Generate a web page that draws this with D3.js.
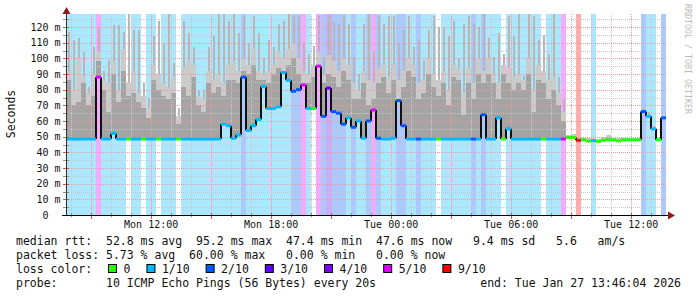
<!DOCTYPE html>
<html><head><meta charset="utf-8">
<script src="https://cdn.jsdelivr.net/npm/d3@7"></script>
<style>body{margin:0;background:#fff} svg{display:block} text{font-family:"DejaVu Sans Mono",monospace}</style>
</head><body><svg id="c" width="697" height="297"></svg>
<script>
// ---- data ----
const startTime = "2026-01-26T07:46:04";
const endTime = "2026-01-27T13:46:04";
const binMinutes = 15;
const yMax = 128.3;
const lossLevels = [0, 1, 2, 3, 4, 5, 9];
const lossLabels = ["0", "1/10", "2/10", "3/10", "4/10", "5/10", "9/10"];
const lossColors = ["#26ff00", "#00b8ff", "#0059ff", "#5e00ff", "#7e00ff", "#dd00ff", "#ff0000"];
const yTicks = [0, 10, 20, 30, 40, 50, 60, 70, 80, 90, 100, 110, 120];
const yTickLabels = ["0  ", "10 m", "20 m", "30 m", "40 m", "50 m", "60 m", "70 m", "80 m", "90 m", "100 m", "110 m", "120 m"];
// median rtt (ms) per 15-minute bin
const median = [
  48.5,48.5,48.5,48.5,48.5,48.5,88,48.5,48.5,52, 48.5,48.5,48.5,48.5,48.5,48.5,48.5,48.5,48.5,48.5,
  48.5,48.5,48.5,48.5,48.5,48.5,48.5,48.5,48.5,48.5, 48.5,58,57,49,51,88,54,57,61,82,
  68,68,69,91,86,79,80,83,68,68, 95,63,81,66,65,58,62,56,60,49,
  60,67,49,48.5,48.5,49,73,57,48.5,48.5, 48.5,48.5,48.5,48.5,48.5,48.5,48.5,48.5,48.5,48.5,
  48.5,48.5,48.5,64,48.5,48.5,62,48.5,55,48.5, 48.5,48.5,48.5,48.5,48.5,48.5,48.5,48.5,48.5,48.5,
  49.5,49.5,47.7,48,47.2,47.5,47,47.8,48,48, 47.3,48,48,48,48,66,63,55,48,62
];
// packet loss (tenths) per bin
const loss = [
  1,1,1,1,1,1,5,1,1,1, 1,1,0,1,1,0,1,1,0,1,
  1,1,0,1,1,1,1,1,1,1, 1,1,1,1,1,2,1,1,1,1,
  1,1,1,1,1,2,2,5,1,0, 5,2,3,2,2,2,1,2,1,1,
  2,5,2,1,1,1,2,2,1,1, 2,1,1,1,0,1,1,1,1,1,
  1,2,1,2,1,1,1,0,1,1, 1,1,1,1,1,0,1,1,1,5,
  0,0,9,0,0,1,0,0,0,0, 0,0,0,0,0,2,1,1,0,2
];
// smoke: highest ping, upper light band, medium band (ms)
const smokeMax = [
  117,112,113,104,82,107,120,92,99,121, 121,117,128,118,118,84,75,114,124,110,
  128,97,68,124,116,107,79,80,107,114, 128,128,124,128,116,127,110,127,116,100,
  112,107,122,124,128,127,127,110,103,108, 127,101,127,123,122,127,122,101,90,122,
  128,105,127,122,127,127,110,118,127,107, 112,99,118,127,120,120,114,124,100,122,
  127,122,120,128,113,101,116,103,127,114, 128,89,128,127,112,115,103,128,88,75,
  51,52,49,49,49,49,48.5,50,51,49, 49,49,49,49,49,68,66,57,49,63
];
const smokeHigh = [
  92,80,100,88,78,90,104,86,84,98, 80,106,84,92,78,76,68,96,90,84,
  82,88,63,94,98,96,76,74,92,86, 90,84,96,98,92,100,96,106,92,90,
  92,96,104,100,106,110,100,92,90,96, 104,90,102,98,92,100,96,84,80,92,
  86,84,94,96,88,96,86,92,100,96, 84,86,100,90,86,92,80,96,94,78,
  94,84,100,92,100,90,84,96,94,88, 90,86,100,80,96,92,86,88,78,66,
  51,52,49,49,49,49,48.5,50,51,49, 49,49,49,49,49,67,64,56,49,63
];
const smokeMid = [
  86,70,72,84,70,76,98,80,66,90, 72,92,76,78,72,68,62,86,80,76,
  74,78,58,82,76,88,70,66,84,78, 82,76,86,86,84,92,90,96,86,86,
  84,90,94,92,96,100,90,84,84,88, 96,84,90,88,82,92,86,74,74,84,
  70,74,84,88,78,86,74,82,92,88, 74,78,90,82,76,84,70,88,86,64,
  84,74,90,84,90,84,74,90,84,80, 84,80,90,66,86,84,74,80,70,60,
  50,50,48,48.5,48,48,48,48.5,49,48.5, 48,48.5,48.5,48.5,48.5,66,63,55,48.5,62
];
const legendLine1 = "median rtt:  52.8 ms avg  95.2 ms max  47.4 ms min  47.6 ms now   9.4 ms sd   5.6   am/s";
const legendLine2 = "packet loss: 5.73 % avg  60.00 % max   0.00 % min   0.00 % now";
const legendLine3 = "loss color:";
const legendLine4 = "probe:       10 ICMP Echo Pings (56 Bytes) every 20s";
const endLabel = "end: Tue Jan 27 13:46:04 2026";
const yTitle = "Seconds";
const watermark = "RRDTOOL / TOBI OETIKER";

// ---- drawing ----
const nb = s => s.replace(/ /g, "\u00a0");
const svg = d3.select("#c");
const parse = d3.timeParse("%Y-%m-%dT%H:%M:%S");
const tStart = parse(startTime), tEnd = parse(endTime);
const x = d3.scaleTime().domain([tStart, tEnd]).range([66, 666]);
const y = d3.scaleLinear().domain([0, yMax]).range([215, 14]);
const colorOf = l => lossColors[lossLevels.indexOf(l)];
const bins = median.map((m, i) => ({
  t0: d3.timeMinute.offset(tStart, i * binMinutes),
  t1: d3.timeMinute.offset(tStart, (i + 1) * binMinutes),
  med: m, loss: loss[i], max: smokeMax[i], hi: smokeHigh[i], mid: smokeMid[i]
}));

// loss backgrounds
svg.append("g").attr("shape-rendering", "crispEdges").selectAll("rect")
  .data(bins.filter(d => d.loss > 0)).join("rect")
  .attr("x", d => x(d.t0)).attr("width", d => x(d.t1) - x(d.t0))
  .attr("y", y(yMax)).attr("height", y(0) - y(yMax))
  .attr("fill", d => colorOf(d.loss)).attr("fill-opacity", 0.33);

// smoke
const sg = svg.append("g").attr("shape-rendering", "crispEdges");
sg.selectAll(".mx").data(bins).join("rect")
  .attr("x", d => (x(d.t0) + x(d.t1)) / 2 - 1).attr("width", 2)
  .attr("y", d => y(d.max)).attr("height", d => Math.max(0, y(d.med) - y(d.max)))
  .attr("fill", "#b6b6b6");
sg.selectAll(".hi").data(bins).join("rect")
  .attr("x", d => x(d.t0)).attr("width", d => x(d.t1) - x(d.t0))
  .attr("y", d => y(d.hi)).attr("height", d => Math.max(0, y(d.med) - y(d.hi)))
  .attr("fill", "#cbcbcb");
sg.selectAll(".md").data(bins).join("rect")
  .attr("x", d => x(d.t0)).attr("width", d => x(d.t1) - x(d.t0))
  .attr("y", d => y(d.mid)).attr("height", d => Math.max(0, y(d.med) - y(d.mid)))
  .attr("fill", "#a4a4a4");

// grid
const hours = d3.timeHour.range(tStart, tEnd);
const g = svg.append("g").attr("shape-rendering", "crispEdges").attr("stroke-dasharray", "1,1");
g.selectAll(".vmin").data(hours.filter(h => h.getHours() % 3 !== 0)).join("line")
  .attr("x1", d => Math.round(x(d)) + 0.5).attr("x2", d => Math.round(x(d)) + 0.5)
  .attr("y1", y(yMax)).attr("y2", y(0)).attr("stroke", "#c8c8c8");
g.selectAll(".vmaj").data(hours.filter(h => h.getHours() % 3 === 0)).join("line")
  .attr("x1", d => Math.round(x(d)) + 0.5).attr("x2", d => Math.round(x(d)) + 0.5)
  .attr("y1", y(yMax)).attr("y2", y(0)).attr("stroke", "#f09a9a");
const minorY = d3.range(5, yMax, 10);
g.selectAll(".hmin").data(minorY).join("line")
  .attr("x1", 67).attr("x2", 666).attr("y1", d => Math.round(y(d)) + 0.5).attr("y2", d => Math.round(y(d)) + 0.5)
  .attr("stroke", "#c8c8c8");
g.selectAll(".hmaj").data(yTicks.filter(v => v > 0)).join("line")
  .attr("x1", 67).attr("x2", 666).attr("y1", d => Math.round(y(d)) + 0.5).attr("y2", d => Math.round(y(d)) + 0.5)
  .attr("stroke", "#f09a9a");

// median line
const mg = svg.append("g");
const jumps = bins.slice(1).map((d, i) => ({ t: d.t0, a: bins[i].med, b: d.med })).filter(j => Math.abs(j.a - j.b) > 1.2);
mg.selectAll(".jv").data(jumps).join("line")
  .attr("x1", d => x(d.t)).attr("x2", d => x(d.t))
  .attr("y1", d => y(d.a)).attr("y2", d => y(d.b))
  .attr("stroke", "#111").attr("stroke-width", 2);
mg.selectAll(".seg").data(bins).join("line")
  .attr("x1", d => x(d.t0)).attr("x2", d => x(d.t1))
  .attr("y1", d => y(d.med)).attr("y2", d => y(d.med))
  .attr("stroke", d => colorOf(d.loss)).attr("stroke-width", 3);

// axes
const ax = svg.append("g").attr("shape-rendering", "crispEdges");
ax.selectAll(".xt").data(hours).join("line")
  .attr("x1", d => Math.round(x(d)) + 0.5).attr("x2", d => Math.round(x(d)) + 0.5)
  .attr("y1", 213).attr("y2", d => d.getHours() % 3 === 0 ? 219 : 217)
  .attr("stroke", d => d.getHours() % 3 === 0 ? "#e05050" : "#909090");
ax.selectAll(".yt").data(d3.range(0, yMax, 5)).join("line")
  .attr("x1", 63).attr("x2", 69).attr("y1", d => Math.round(y(d)) + 0.5).attr("y2", d => Math.round(y(d)) + 0.5)
  .attr("stroke", d => d % 10 === 0 ? "#e05050" : "#909090");
ax.append("line").attr("x1", 66.5).attr("x2", 66.5).attr("y1", 216).attr("y2", 10).attr("stroke", "#303030");
ax.append("line").attr("x1", 62).attr("x2", 670).attr("y1", 215.5).attr("y2", 215.5).attr("stroke", "#000");
svg.append("path").attr("d", "M62.5,14L66.5,7L70.5,14Z").attr("fill", "#8b1a1a");
svg.append("path").attr("d", "M668,211.5L675,215.5L668,219.5Z").attr("fill", "#8b1a1a");

// axis labels via d3 axes
const xAxis = d3.axisBottom(x).tickValues(hours.filter(h => h.getHours() % 6 === 0))
  .tickFormat(d3.timeFormat("%a %H:%M")).tickSize(0).tickPadding(6);
const xg = svg.append("g").attr("transform", "translate(0,215)").call(xAxis);
xg.select(".domain").remove();
xg.selectAll("text").attr("font-size", 10).attr("font-family", "DejaVu Sans Mono").attr("fill", "#111");

const yAxis = d3.axisLeft(y).tickValues(yTicks).tickFormat((d, i) => nb(yTickLabels[i])).tickSize(0).tickPadding(5.5);
const yg = svg.append("g").attr("transform", "translate(66,0)").call(yAxis);
yg.select(".domain").remove();
yg.selectAll("text").attr("font-size", 10).attr("font-family", "DejaVu Sans Mono").attr("fill", "#111");

svg.append("text").attr("transform", "translate(15,114) rotate(-90)").attr("text-anchor", "middle")
  .attr("font-size", 11.5).attr("fill", "#111").text(yTitle);
svg.append("text").attr("transform", "translate(684.5,4) rotate(90)")
  .attr("font-size", 8.3).attr("fill", "#bdbdbd").text(watermark);

// legend
const fs = 11.5;
const lg = svg.append("g").attr("font-size", fs).attr("fill", "#111");
lg.append("text").attr("x", 16).attr("y", 245).text(nb(legendLine1));
lg.append("text").attr("x", 16).attr("y", 259).text(nb(legendLine2));
lg.append("text").attr("x", 16).attr("y", 273).text(nb(legendLine3));
lg.append("text").attr("x", 16).attr("y", 287).text(nb(legendLine4));
lg.append("text").attr("x", 681).attr("y", 287).attr("text-anchor", "end").text(nb(endLabel));
const charW = fs * 0.602;
let bx = 108.5;
lossLabels.forEach((lab, i) => {
  lg.append("rect").attr("x", bx).attr("y", 264.5).attr("width", 8).attr("height", 8)
    .attr("fill", lossColors[i]).attr("stroke", "#000").attr("stroke-width", 1);
  lg.append("text").attr("x", bx + 15).attr("y", 273).text(lab);
  bx += 15 + lab.length * charW + 16.5;
});
</script></body></html>
